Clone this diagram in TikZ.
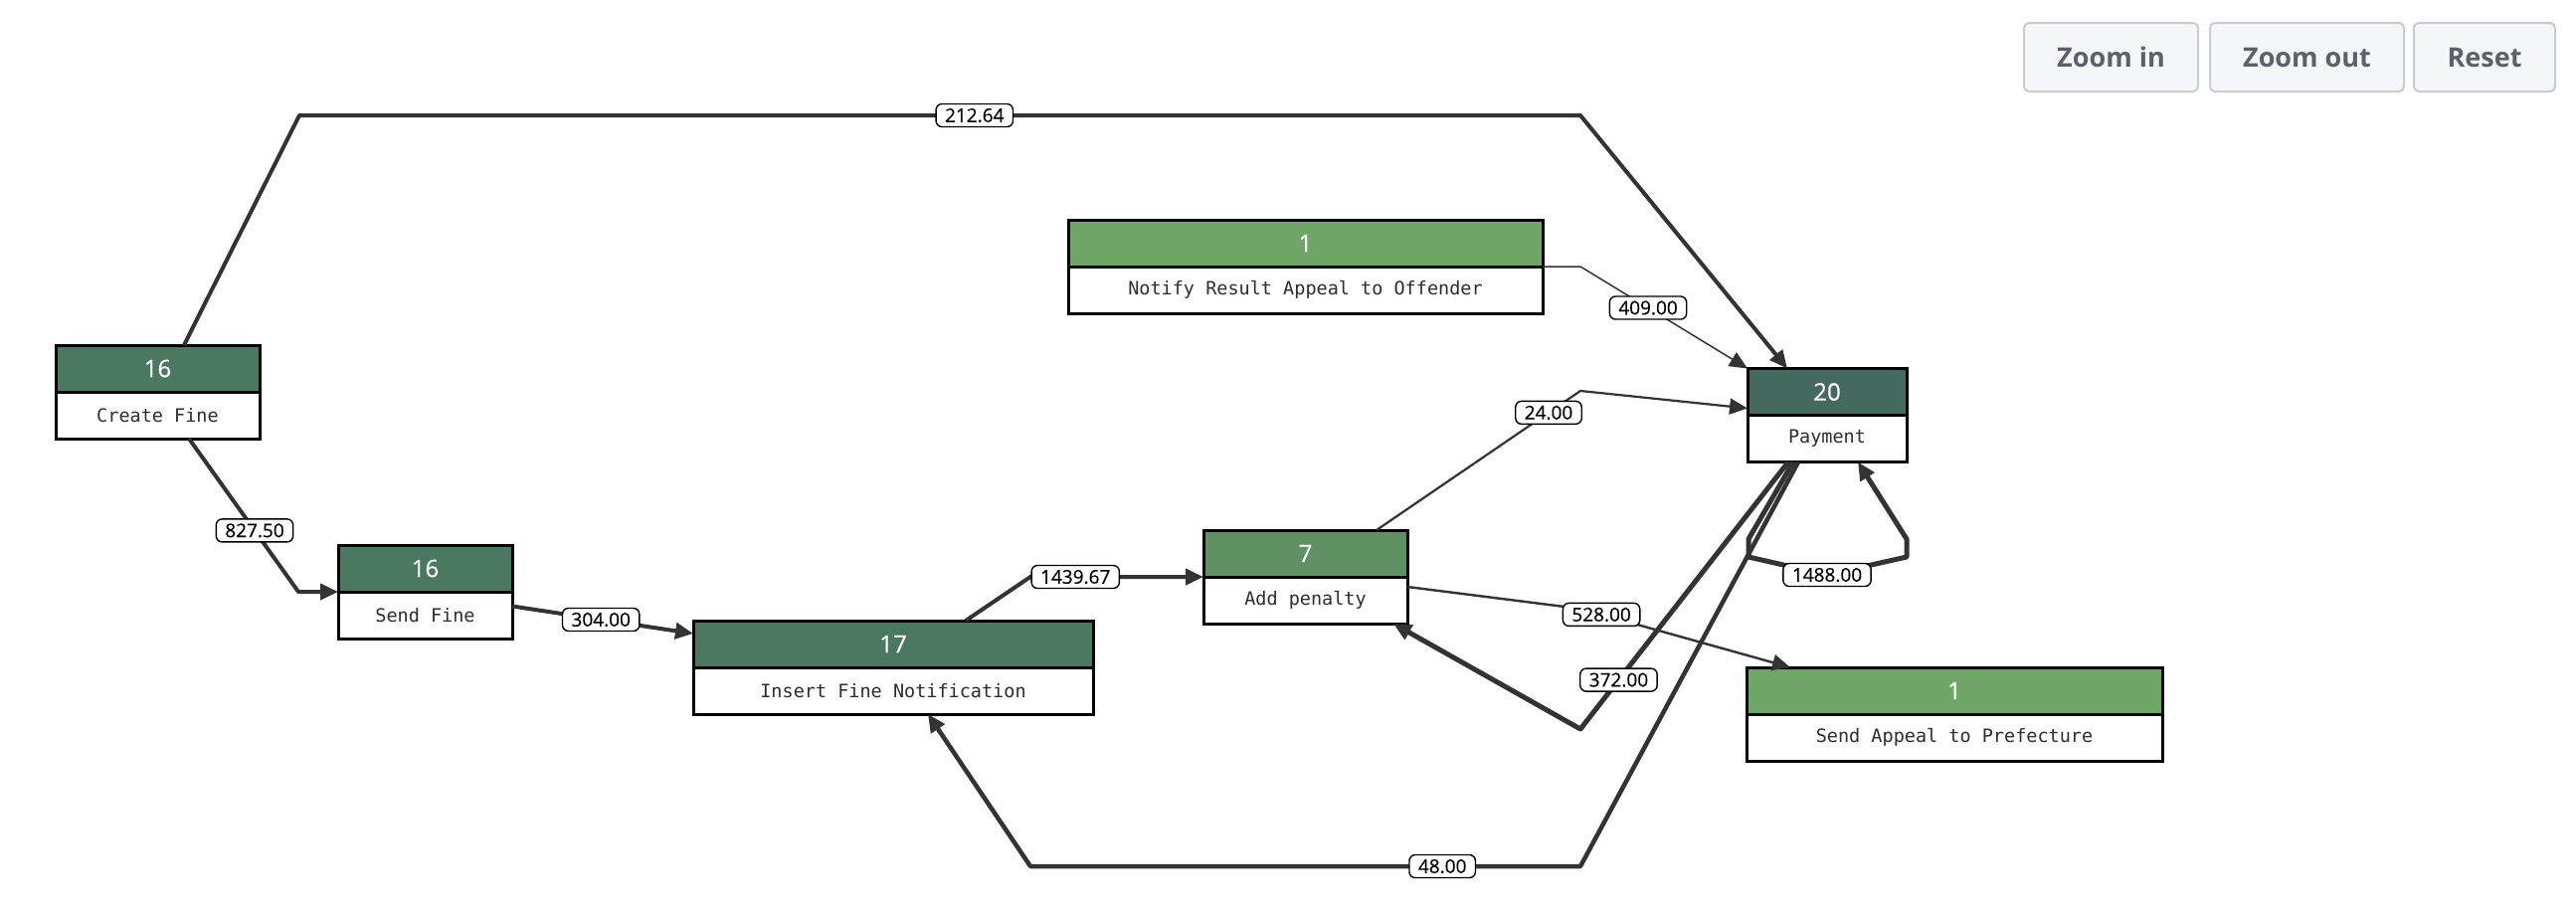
\documentclass[tikz,border=0pt]{standalone}
\usepackage{fontspec}
\usetikzlibrary{arrows.meta}
\newfontfamily\numfont[FakeBold=0.6]{Open Sans}
\newfontfamily\lblfont[FakeBold=0.3]{Open Sans}
\newfontfamily\btnfont{Open Sans}
\newfontfamily\codefont{DejaVu Sans Mono}
\definecolor{hdrA}{HTML}{4B7861}
\definecolor{hdrP}{HTML}{44695E}
\definecolor{hdrB}{HTML}{5F9163}
\definecolor{hdrC}{HTML}{6EA765}
\definecolor{ln}{HTML}{333333}
\definecolor{txt}{HTML}{2E2E2E}
\definecolor{btnfill}{HTML}{F5F6F8}
\definecolor{btnedge}{HTML}{C9CDD3}
\definecolor{btntext}{HTML}{5A616B}
\tikzset{
  hdr/.style={draw=black, line width=3pt, minimum height=47pt, inner sep=0pt,
    outer sep=0pt, text=white, font=\numfont\fontsize{24}{28}\selectfont},
  body/.style={draw=black, line width=3pt, fill=white, minimum height=47pt,
    inner sep=0pt, outer sep=0pt, anchor=north, text=txt,
    font=\codefont\fontsize{18.5}{22}\selectfont},
  lbl/.style={draw=black, line width=1.4pt, fill=white, rounded corners=6pt,
    inner xsep=9pt, inner ysep=0pt, minimum height=23pt, text=black,
    font=\lblfont\fontsize{19}{22}\selectfont},
  flow/.style={draw=ln, line join=round, -{Triangle[length=18pt,width=16pt]}},
  btn/.style={draw=btnedge, fill=btnfill, line width=2pt, rounded corners=5pt,
    minimum height=69pt, inner sep=0pt, text=btntext,
    font=\btnfont\bfseries\fontsize{27}{32}\selectfont},
}
\begin{document}
\begin{tikzpicture}[x=1pt,y=-1pt]
\useasboundingbox (0,0) rectangle (2590,922);
\fill[white] (0,0) rectangle (2590,922);

% zoom controls
\node[btn, minimum width=175pt] (bzin) at (2122.5,57.5) {Zoom in};
\node[btn, minimum width=195pt] (bzout) at (2319.5,57.5) {Zoom out};
\node[btn, minimum width=142pt] (breset) at (2498,57.5) {Reset};

% activities: count header on top, activity name below
\node[hdr, fill=hdrA, minimum width=205pt] (cfh) at (158.5,370.5) {16};
\node[body, minimum width=205pt] (cfb) at (cfh.south) {Create Fine};

\node[hdr, fill=hdrA, minimum width=175pt] (sfh) at (427.5,571.5) {16};
\node[body, minimum width=175pt] (sfb) at (sfh.south) {Send Fine};

\node[hdr, fill=hdrA, minimum width=402pt] (infh) at (898,647.5) {17};
\node[body, minimum width=402pt] (infb) at (infh.south) {Insert Fine Notification};

\node[hdr, fill=hdrB, minimum width=205pt] (aph) at (1312.5,556.5) {7};
\node[body, minimum width=205pt] (apb) at (aph.south) {Add penalty};

\node[hdr, fill=hdrC, minimum width=477pt] (nrh) at (1312.5,244.5) {1};
\node[body, minimum width=477pt] (nrb) at (nrh.south) {Notify Result Appeal to Offender};

\node[hdr, fill=hdrP, minimum width=160pt] (payh) at (1837,394) {20};
\node[body, minimum width=160pt] (payb) at (payh.south) {Payment};

\node[hdr, fill=hdrC, minimum width=418pt] (sah) at (1965,694.5) {1};
\node[body, minimum width=418pt] (sab) at (sah.south) {Send Appeal to Prefecture};

% bend points
\coordinate (b1a) at (301,116);
\coordinate (b1b) at (1589,116);
\coordinate (b2) at (1589,268);
\coordinate (b3) at (1589,393);
\coordinate (b4) at (300,595);
\coordinate (b6) at (1036,580);
\coordinate (b7) at (1589,612);
\coordinate (b8) at (1589,733);
\coordinate (b9a) at (1589,871);
\coordinate (b9b) at (1036,871);
\coordinate (b10a) at (1758,542);
\coordinate (b10b) at (1758,560);
\coordinate (b10c) at (1837,578);
\coordinate (b10d) at (1917,560);
\coordinate (b10e) at (1917,542);

% connectors
\draw[flow, line width=4pt] ([xshift=26.5pt]cfh.north) -- (b1a)
  -- node[lbl, pos=0.527] (l1) {212.64} (b1b) -- ([xshift=-40pt]payh.north);

\draw[flow, line width=1.5pt] (nrh.south east) -- (b2)
  -- node[lbl, pos=0.405] (l2) {409.00} (payh.north west);

\draw[flow, line width=2.2pt] ([xshift=71.5pt]aph.north)
  -- node[lbl, pos=0.844] (l3) {24.00} (b3) -- ([yshift=-16.5pt]payh.west);

\draw[flow, line width=4pt] ([xshift=31.5pt]cfb.south)
  -- node[lbl, pos=0.6] (l4) {827.50} (b4) -- (sfh.south west);

\draw[flow, line width=4pt] ([yshift=9pt]sfb.east)
  -- node[lbl, pos=0.49] (l5) {304.00} ([yshift=10.5pt]infh.west);

\draw[flow, line width=4pt] ([xshift=73pt]infh.north) -- (b6)
  -- node[lbl, pos=0.26] (l6) {1439.67} (aph.south west);

\draw[flow, line width=2.4pt] ([yshift=13.5pt]apb.east) -- (b7)
  -- node[lbl, pos=0.1] (l7) {528.00} ([xshift=-165pt]sah.north);

\draw[flow, line width=5pt] ([xshift=-39pt]payb.south)
  -- node[lbl, pos=0.816] (l8) {372.00} (b8) -- ([xshift=88.5pt]apb.south);

\draw[flow, line width=4.5pt] ([xshift=-29pt]payb.south) -- (b9a)
  -- node[lbl, pos=0.251] (l9) {48.00} (b9b) -- ([xshift=35pt]infb.south);

\draw[flow, line width=5pt] ([xshift=-34pt]payb.south) -- (b10a) -- (b10b)
  -- (b10c) -- (b10d) -- (b10e) -- ([xshift=31pt]payb.south);
\node[lbl] (l10) at (b10c) {1488.00};
\end{tikzpicture}
\end{document}
